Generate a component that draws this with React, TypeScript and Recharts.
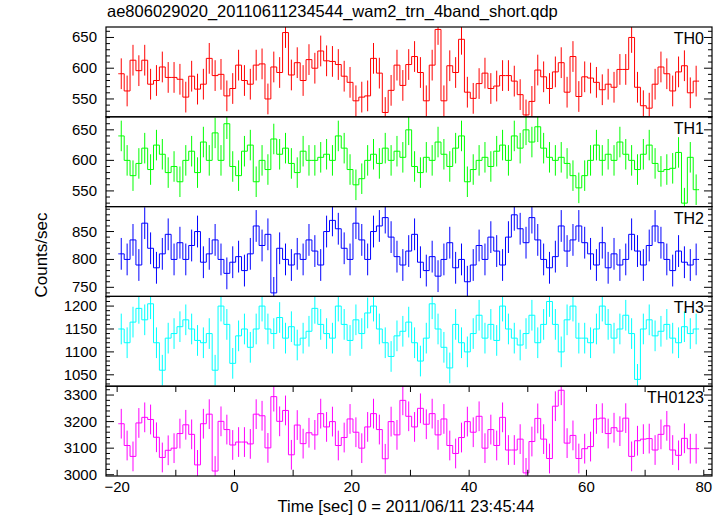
import React from 'react';
import { ComposedChart, Line, XAxis, YAxis, ErrorBar } from 'recharts';

const TITLE = 'ae806029020_20110611234544_wam2_trn_4band_short.qdp';
const X_LABEL = 'Time [sec] 0 = 2011/06/11 23:45:44';
const Y_LABEL = 'Counts/sec';

// 1 s bins, first bin starts at -19.8 s
const BIN_START = -19.8;
const BIN_WIDTH = 1.0;
const X_DOMAIN = [-21.9, 81.4];
const X_TICKS = [-20, -10, 0, 10, 20, 30, 40, 50, 60, 70, 80];
const X_LABELS = [-20, 0, 20, 40, 60, 80];

const th0 = [
  591, 563, 613, 596, 613, 574, 580, 602, 585, 585, 582, 553, 587, 566, 574, 616, 588, 590, 555, 567,
  605, 580, 574, 605, 607, 550, 602, 593, 658, 589, 609, 580, 614, 600, 628, 612, 611, 606, 587, 577,
  547, 553, 555, 616, 592, 528, 564, 605, 572, 606, 619, 593, 547, 605, 663, 547, 604, 593, 647, 561,
  551, 575, 592, 567, 571, 588, 588, 579, 557, 524, 546, 597, 586, 567, 594, 609, 561, 619, 554, 586,
  584, 577, 565, 574, 569, 598, 598, 650, 569, 539, 535, 574, 602, 591, 563, 594, 604, 560, 579,
];
const th1 = [
  640, 600, 575, 595, 620, 585, 625, 610, 580, 590, 565, 600, 615, 580, 630, 600, 645, 600, 660, 590,
  575, 615, 625, 565, 600, 585, 635, 610, 620, 595, 580, 615, 600, 600, 605, 610, 600, 640, 620, 585,
  560, 570, 600, 610, 595, 620, 600, 615, 605, 650, 590, 580, 605, 600, 630, 610, 590, 620, 640, 565,
  585, 600, 605, 590, 615, 625, 600, 640, 620, 650, 630, 655, 620, 605, 600, 605, 595, 575, 555, 575,
  600, 625, 600, 610, 600, 630, 610, 600, 585, 610, 625, 595, 582, 585, 587, 613, 530, 605, 552,
];
const th2 = [
  810, 800, 835, 790, 865, 820, 785, 810, 845, 800, 830, 800, 825, 850, 795, 810, 835, 800, 775, 795,
  805, 780, 810, 860, 825, 845, 740, 820, 800, 790, 810, 800, 835, 815, 790, 850, 870, 855, 820, 800,
  865, 835, 800, 850, 860, 875, 840, 805, 790, 815, 845, 795, 780, 805, 770, 800, 830, 785, 800, 760,
  790, 825, 800, 840, 815, 790, 840, 880, 855, 830, 875, 835, 800, 785, 805, 860, 815, 835, 860, 830,
  810, 790, 830, 785, 810, 790, 800, 845, 815, 790, 825, 860, 830, 800, 780, 815, 795, 790, 800,
];
const th3 = [
  1150, 1120, 1165, 1195, 1170, 1205, 1120, 1060, 1130, 1140, 1155, 1170, 1150, 1125, 1120, 1140, 1060, 1200, 1160, 1075,
  1135, 1150, 1110, 1150, 1200, 1150, 1140, 1175, 1130, 1155, 1115, 1130, 1145, 1195, 1160, 1140, 1130, 1200, 1160, 1125,
  1170, 1140, 1185, 1200, 1150, 1120, 1090, 1135, 1145, 1165, 1120, 1080, 1130, 1205, 1150, 1110, 1065, 1160, 1120, 1100,
  1140, 1180, 1130, 1160, 1125, 1200, 1150, 1130, 1115, 1140, 1180, 1120, 1160, 1210, 1160, 1100, 1170, 1200, 1130, 1130,
  1120, 1150, 1200, 1160, 1130, 1150, 1180, 1140, 1040, 1150, 1170, 1135, 1145, 1160, 1130, 1120, 1155, 1140, 1150,
];
const th0123 = [
  3192, 3110, 3069, 3195, 3216, 3208, 3141, 3065, 3092, 3100, 3155, 3188, 3152, 3037, 3192, 3228, 3014, 3201, 3170, 3112,
  3123, 3123, 3116, 3228, 3222, 3101, 3294, 3201, 3242, 3075, 3187, 3117, 3158, 3150, 3230, 3180, 3200, 3110, 3140, 3210,
  3160, 3100, 3180, 3230, 3170, 3060, 3200, 3150, 3280, 3220, 3180, 3250, 3190, 3230, 3150, 3210, 3110, 3080, 3140, 3200,
  3160, 3220, 3100, 3170, 3110, 3216, 3093, 3093, 3134, 3007, 3125, 3212, 3134, 3061, 3258, 3318, 3119, 3148, 3061, 3098,
  3106, 3210, 3213, 3155, 3177, 3164, 3213, 3069, 3128, 3134, 3136, 3093, 3152, 3184, 3093, 3073, 3137, 3098, 3098,
];

const th0Ticks = [550, 600, 650];
const th1Ticks = [550, 600, 650];
const th2Ticks = [750, 800, 850];
const th3Ticks = [1050, 1100, 1150, 1200];
const th0123Ticks = [3000, 3100, 3200, 3300];

const PANELS = [
  { name: 'TH0', color: '#ff0000', values: th0, err: 25, domain: [521, 667], major: th0Ticks, minor: 10 },
  { name: 'TH1', color: '#00ff00', values: th1, err: 25, domain: [524, 671], major: th1Ticks, minor: 10 },
  { name: 'TH2', color: '#0000ff', values: th2, err: 28.5, domain: [733, 894], major: th2Ticks, minor: 10 },
  { name: 'TH3', color: '#00ffff', values: th3, err: 33.5, domain: [1026, 1222], major: th3Ticks, minor: 10 },
  { name: 'TH0123', color: '#ff00ff', values: th0123, err: 56, domain: [2996, 3334], major: th0123Ticks, minor: 20 },
];

const W = 726;
const H = 516;
const PLOT_LEFT = 106;
const PLOT_RIGHT = 712;
const PLOT_TOP = 27;
const PANEL_H = 89.8;
const FONT = "'Liberation Sans', Arial, Helvetica, sans-serif";

// error bars are cut at the panel frame, like the plotted line
function buildSeries(values: number[], err: number, domain: number[]) {
  const pts = values.map((v, i) => ({
    x: BIN_START + (i + 0.5) * BIN_WIDTH,
    y: v,
    e: [Math.max(0, Math.min(err, v - domain[0])), Math.max(0, Math.min(err, domain[1] - v))],
  }));
  return [
    { x: BIN_START, y: values[0], e: [0, 0] },
    ...pts,
    { x: BIN_START + values.length * BIN_WIDTH, y: values[values.length - 1], e: [0, 0] },
  ];
}

function allTicks(domain: number[], step: number) {
  const out: number[] = [];
  for (let v = Math.ceil(domain[0] / step) * step; v <= domain[1]; v += step) out.push(v);
  return out;
}

const YTick = (props: any) => {
  const { y, payload, majors } = props;
  const isMajor = majors.includes(payload.value);
  const len = isMajor ? 8 : 4;
  return (
    <g>
      <line x1={PLOT_LEFT} x2={PLOT_LEFT + len} y1={y} y2={y} stroke="#000" />
      <line x1={PLOT_RIGHT - len} x2={PLOT_RIGHT} y1={y} y2={y} stroke="#000" />
      {isMajor && (
        <text x={PLOT_LEFT - 9} y={y} dy={5} textAnchor="end" fontSize={15} fontFamily={FONT} fill="#000">
          {payload.value}
        </text>
      )}
    </g>
  );
};

const XTick = (props: any) => {
  const { x, payload, showLabel } = props;
  const v = payload.value;
  return (
    <g>
      <line x1={x} x2={x} y1={0} y2={6} stroke="#000" />
      <line x1={x} x2={x} y1={PANEL_H - 6} y2={PANEL_H} stroke="#000" />
      {showLabel && X_LABELS.includes(v) && (
        <text x={x} y={PANEL_H + 16} textAnchor="middle" fontSize={15} fontFamily={FONT} fill="#000">
          {v < 0 ? '\u2212' + Math.abs(v) : String(v)}
        </text>
      )}
    </g>
  );
};

function Panel({ cfg, index, last }: { cfg: any; index: number; last: boolean }) {
  const top = PLOT_TOP + index * PANEL_H;
  const data = buildSeries(cfg.values, cfg.err, cfg.domain);
  const xAxisH = last ? 40 : 0;
  const ticks = allTicks(cfg.domain, cfg.minor);
  return (
    <div style={{ position: 'absolute', left: 0, top }}>
      <ComposedChart
        width={W}
        height={PANEL_H + xAxisH}
        data={data}
        margin={{ top: 0, right: W - PLOT_RIGHT, bottom: 0, left: 0 }}
      >
        <XAxis
          type="number"
          dataKey="x"
          domain={X_DOMAIN}
          allowDataOverflow
          ticks={X_TICKS}
          interval={0}
          height={xAxisH}
          axisLine={false}
          tickLine={false}
          tickSize={0}
          tick={(p: any) => <XTick {...p} showLabel={last} />}
        />
        <YAxis
          type="number"
          domain={cfg.domain}
          allowDataOverflow
          ticks={ticks}
          interval={0}
          width={PLOT_LEFT}
          axisLine={false}
          tickLine={false}
          tick={(p: any) => <YTick {...p} majors={cfg.major} />}
        />
        <Line type="step" dataKey="y" stroke={cfg.color} strokeWidth={1} dot={false} isAnimationActive={false}>
          <ErrorBar dataKey="e" direction="y" width={0} stroke={cfg.color} strokeWidth={1} />
        </Line>
      </ComposedChart>
    </div>
  );
}

export default function App() {
  return (
    <div style={{ position: 'absolute', left: 0, top: 0, width: W, height: H, background: '#fff', fontFamily: FONT }}>
      {PANELS.map((p, i) => (
        <Panel key={p.name} cfg={p} index={i} last={i === PANELS.length - 1} />
      ))}
      <svg width={W} height={H} style={{ position: 'absolute', left: 0, top: 0, pointerEvents: 'none' }}>
        {PANELS.map((p, i) => (
          <g key={p.name}>
            <rect
              x={PLOT_LEFT}
              y={PLOT_TOP + i * PANEL_H}
              width={PLOT_RIGHT - PLOT_LEFT}
              height={PANEL_H}
              fill="none"
              stroke="#000"
              strokeWidth={1.2}
            />
            <text x={704} y={PLOT_TOP + i * PANEL_H + 17} textAnchor="end" fontSize={16} fontFamily={FONT} fill="#000">
              {p.name}
            </text>
          </g>
        ))}
        <text x={107} y={17} fontSize={16.5} fontFamily={FONT} fill="#000">
          {TITLE}
        </text>
        <text x={406} y={512} textAnchor="middle" fontSize={16.5} fontFamily={FONT} fill="#000">
          {X_LABEL}
        </text>
        <text
          x={0}
          y={0}
          transform="translate(47,255) rotate(-90)"
          textAnchor="middle"
          fontSize={17}
          fontFamily={FONT}
          fill="#000"
        >
          {Y_LABEL}
        </text>
      </svg>
    </div>
  );
}
